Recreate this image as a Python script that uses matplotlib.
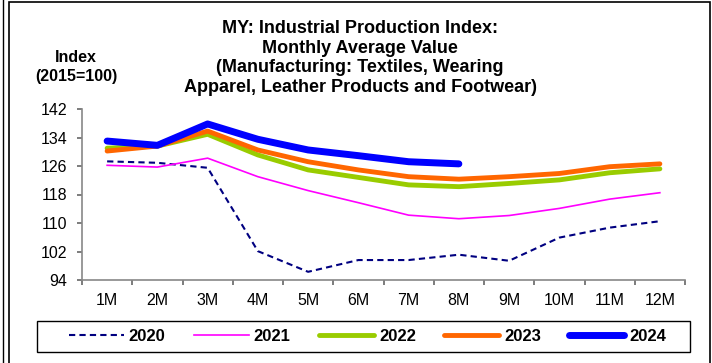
import matplotlib.pyplot as plt
from matplotlib.lines import Line2D
from matplotlib.patches import Rectangle

plt.rcParams['font.family'] = ['Liberation Sans', 'DejaVu Sans']

months = ['1M', '2M', '3M', '4M', '5M', '6M', '7M', '8M', '9M', '10M', '11M', '12M']
y2020 = [127.3, 126.9, 125.5, 102.1, 96.3, 99.6, 99.6, 101.1, 99.4, 105.9, 108.7, 110.5]
y2021 = [126.2, 125.7, 128.2, 123.0, 119.1, 115.7, 112.2, 111.2, 112.1, 114.1, 116.7, 118.5]
y2022 = [131.0, 131.6, 134.9, 129.1, 124.9, 122.8, 120.7, 120.2, 121.1, 122.1, 124.1, 125.2]
y2023 = [130.2, 131.6, 135.8, 130.5, 127.2, 124.9, 123.0, 122.3, 123.0, 123.9, 125.8, 126.6]
y2024 = [133.0, 131.8, 137.8, 133.5, 130.5, 128.9, 127.2, 126.6]
yticks = [94, 102, 110, 118, 126, 134, 142]

W, H = 712, 363
fig = plt.figure(figsize=(W / 100, H / 100), dpi=100)
ax = fig.add_axes([82 / W, 1 - 280 / H, (685 - 82) / W, (280 - 109) / H])

x = list(range(1, 13))
styles = {
    '2020': dict(color='#000080', lw=1.5, ls=(0, (3, 2))),
    '2021': dict(color='#FF00FF', lw=1.2),
    '2022': dict(color='#99CC00', lw=3.5, solid_capstyle='round'),
    '2023': dict(color='#FF6600', lw=3.5, solid_capstyle='round'),
    '2024': dict(color='#0000FF', lw=5, solid_capstyle='round'),
}
series = {'2020': y2020, '2021': y2021, '2022': y2022, '2023': y2023, '2024': y2024}
for name, vals in series.items():
    ax.plot(x[:len(vals)], vals, label=name, **styles[name])

ax.set_xlim(0.5, 12.5)
ax.set_ylim(94, 142)
ax.set_yticks(yticks)
ax.set_xticks(x)
ax.set_xticklabels(months)
ax.set_xticks([i + 0.5 for i in range(0, 13)], minor=True)
ax.tick_params(axis='x', which='major', length=0, pad=9.5, labelsize=11.5)
ax.tick_params(axis='x', which='minor', length=3.6, width=1.2, color='#666666', direction='out')
ax.tick_params(axis='y', length=3.6, width=1.2, pad=7, color='#666666', direction='out',
               labelsize=11.5)
for s in ['top', 'right']:
    ax.spines[s].set_visible(False)
for s in ['left', 'bottom']:
    ax.spines[s].set_color('#888888')
    ax.spines[s].set_linewidth(1.2)

fig.text(360 / W, 1 - 58 / H,
         'MY: Industrial Production Index:\nMonthly Average Value\n'
         '(Manufacturing: Textiles, Wearing\nApparel, Leather Products and Footwear)',
         ha='center', va='center', fontsize=13, fontweight='bold', linespacing=1.2)
fig.text(76 / W, 1 - 67 / H, 'Index\n(2015=100)', ha='center', va='center',
         fontsize=11.5, fontweight='bold', linespacing=1.3)

handles = [Line2D([], [], **styles[k]) for k in series]
fig.legend(handles, list(series), ncol=5, loc='center',
           bbox_to_anchor=(367.5 / W, 1 - 336.5 / H), frameon=False,
           handlelength=3.3, handletextpad=0.3, columnspacing=1.7,
           borderaxespad=0, borderpad=0, prop={'weight': 'bold', 'size': 12})
fig.add_artist(Rectangle((37 / W, 1 - 352 / H), 653 / W, 31 / H,
                         transform=fig.transFigure, fill=False, ec='black', lw=1.0))

fig.add_artist(Rectangle((9 / W, -0.01), 701 / W, 1 - 2 / H + 0.01,
                         transform=fig.transFigure, fill=False, ec='black', lw=1.2))
fig.add_artist(Line2D([3 / W, 3 / W], [0, 1], transform=fig.transFigure,
                      color='black', lw=1.0))

fig.savefig('out.png', dpi=100)
